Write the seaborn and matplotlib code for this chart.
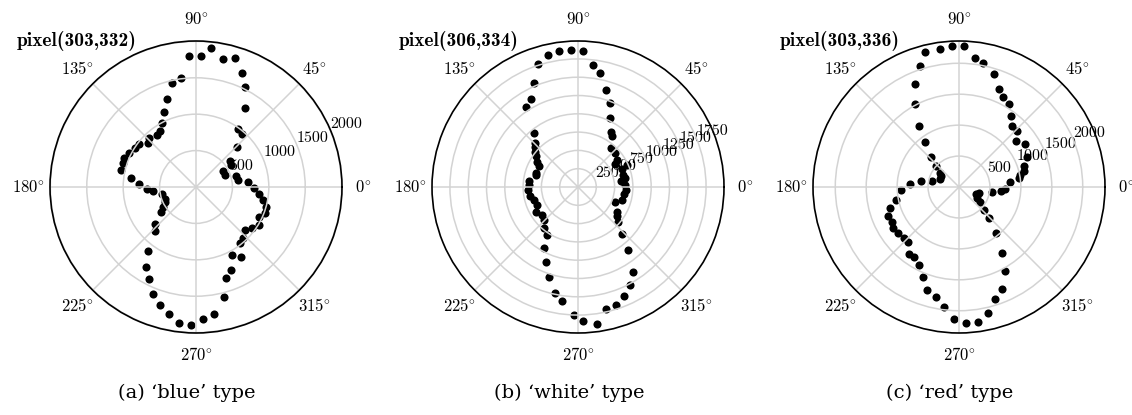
import numpy as np
import pandas as pd
import matplotlib
matplotlib.use('Agg')
import matplotlib.pyplot as plt
import seaborn as sns

# angle (deg) / intensity
ang_blue = [5, 9, 15, 22, 30, 32, 37, 44, 49, 54, 58, 64, 68, 73, 78, 84, 88, 93, 98, 103,
            108, 113, 118, 123, 127, 134, 137, 143, 147, 153, 158, 162, 167, 172, 177, 182,
            186, 192, 201, 206, 211, 216, 222, 227, 233, 238, 243, 248, 253, 258, 263, 268,
            273, 278, 284, 288, 293, 298, 303, 308, 313, 319, 324, 329, 334, 339, 344, 349,
            354, 359]
r_blue = [711, 582, 567, 428, 428, 572, 591, 784, 967, 987, 1281, 1524, 1684, 1853, 1799, 1916,
          1799, 1802, 1516, 1470, 1274, 1115, 990, 913, 894, 927, 892, 982, 992, 1033, 1063,
          1054, 1058, 900, 786, 671, 588, 476, 454, 468, 532, 586, 750, 833, 1099, 1297, 1425,
          1589, 1700, 1784, 1878, 1901, 1819, 1761, 1563, 1314, 1242, 1062, 1145, 975, 950,
          896, 955, 1006, 955, 1010, 1000, 931, 872, 800]

ang_white = [3, 8, 11, 15, 22, 24, 32, 35, 42, 50, 56, 59, 65, 69, 74, 79, 83, 88, 93, 98,
             103, 108, 113, 118, 123, 129, 134, 137, 141, 144, 148, 152, 161, 164, 173, 178,
             184, 190, 197, 204, 211, 218, 224, 231, 237, 241, 247, 252, 258, 262, 268, 272,
             278, 283, 288, 293, 298, 303, 308, 313, 319, 323, 327, 338, 344, 351, 356]
r_white = [638, 588, 649, 637, 653, 739, 598, 650, 689, 694, 833, 874, 1042, 1227, 1384, 1590,
           1681, 1861, 1878, 1879, 1846, 1770, 1543, 1365, 1305, 955, 843, 801, 760, 711, 653,
           600, 603, 600, 674, 673, 684, 670, 627, 608, 663, 632, 650, 728, 788, 949, 1115,
           1287, 1481, 1570, 1753, 1835, 1891, 1715, 1701, 1615, 1524, 1386, 1101, 876, 719,
           669, 628, 549, 629, 631, 661]

ang_red = [6, 9, 11, 14, 18, 24, 33, 39, 44, 49, 54, 59, 64, 68, 73, 79, 83, 88, 93, 98, 104,
           108, 113, 118, 123, 127, 133, 138, 144, 149, 157, 167, 171, 177, 183, 192, 197, 202,
           208, 212, 217, 223, 227, 233, 237, 243, 248, 253, 258, 263, 268, 273, 278, 283, 288,
           293, 299, 303, 309, 314, 318, 325, 329, 337, 343, 351, 355, 358]
r_red = [835, 978, 1011, 1079, 1104, 1210, 1274, 1190, 1306, 1316, 1419, 1572, 1614, 1706, 1910,
         2043, 2105, 2282, 2284, 2259, 2245, 2050, 1814, 1513, 1175, 915, 665, 504, 384, 341,
         331, 441, 615, 800, 946, 1049, 1163, 1230, 1222, 1258, 1230, 1214, 1217, 1348, 1347,
         1421, 1561, 1743, 1811, 1948, 2135, 2201, 2204, 2090, 1904, 1786, 1545, 1280, 958,
         706, 546, 420, 336, 302, 330, 539, 682, 750]

titles = ['pixel(303,332)', 'pixel(306,334)', 'pixel(303,336)']
captions = ['(a) \u2018blue\u2019 type', '(b) \u2018white\u2019 type', '(c) \u2018red\u2019 type']
rticks = [[500, 1000, 1500, 2000], [250, 500, 750, 1000, 1250, 1500, 1750], [500, 1000, 1500, 2000]]
rmax = [2005, 1995, 2360]
theta_ticks = [0, 45, 90, 135, 180, 225, 270, 315]

plt.rcParams['font.family'] = ['cmr10', 'DejaVu Serif']
plt.rcParams['mathtext.fontset'] = 'cm'
plt.rcParams['axes.formatter.use_mathtext'] = True

fig = plt.figure(figsize=(11.32, 4.15), dpi=100)
W, H = 1132, 415
centers = [196, 578, 959]
rad = 146

data = [(ang_blue, r_blue), (ang_white, r_white), (ang_red, r_red)]
for i, (ang, r) in enumerate(data):
    cx = centers[i]
    ax = fig.add_axes([(cx - rad) / W, 1 - (187 + rad) / H, 2 * rad / W, 2 * rad / H],
                      projection='polar')
    df = pd.DataFrame({'theta': np.deg2rad(ang), 'r': r})
    sns.scatterplot(data=df, x='theta', y='r', ax=ax, color='black', s=34, linewidth=0)
    ax.set_xlabel('')
    ax.set_ylabel('')
    ax.set_rlim(0, rmax[i])
    ax.set_rgrids(rticks[i], labels=[str(t) for t in rticks[i]], fontsize=11.5)
    ax.set_thetagrids(theta_ticks, labels=[r'$%d^{\circ}$' % t for t in theta_ticks], fontsize=12)
    ax.tick_params(axis='x', pad=5)
    ax.grid(color='#d3d3d3', linewidth=1.1)
    ax.spines['polar'].set_linewidth(1.2)
    ax.text(-0.115, 1.0, titles[i], transform=ax.transAxes, ha='left', va='center',
            fontsize=14, family=['cmb10', 'DejaVu Serif'])
    fig.text((cx - 9) / W, 1 - 393 / H, captions[i], ha='center', va='center',
             fontsize=14, family='DejaVu Serif')

plt.savefig('out.png', dpi=100)
